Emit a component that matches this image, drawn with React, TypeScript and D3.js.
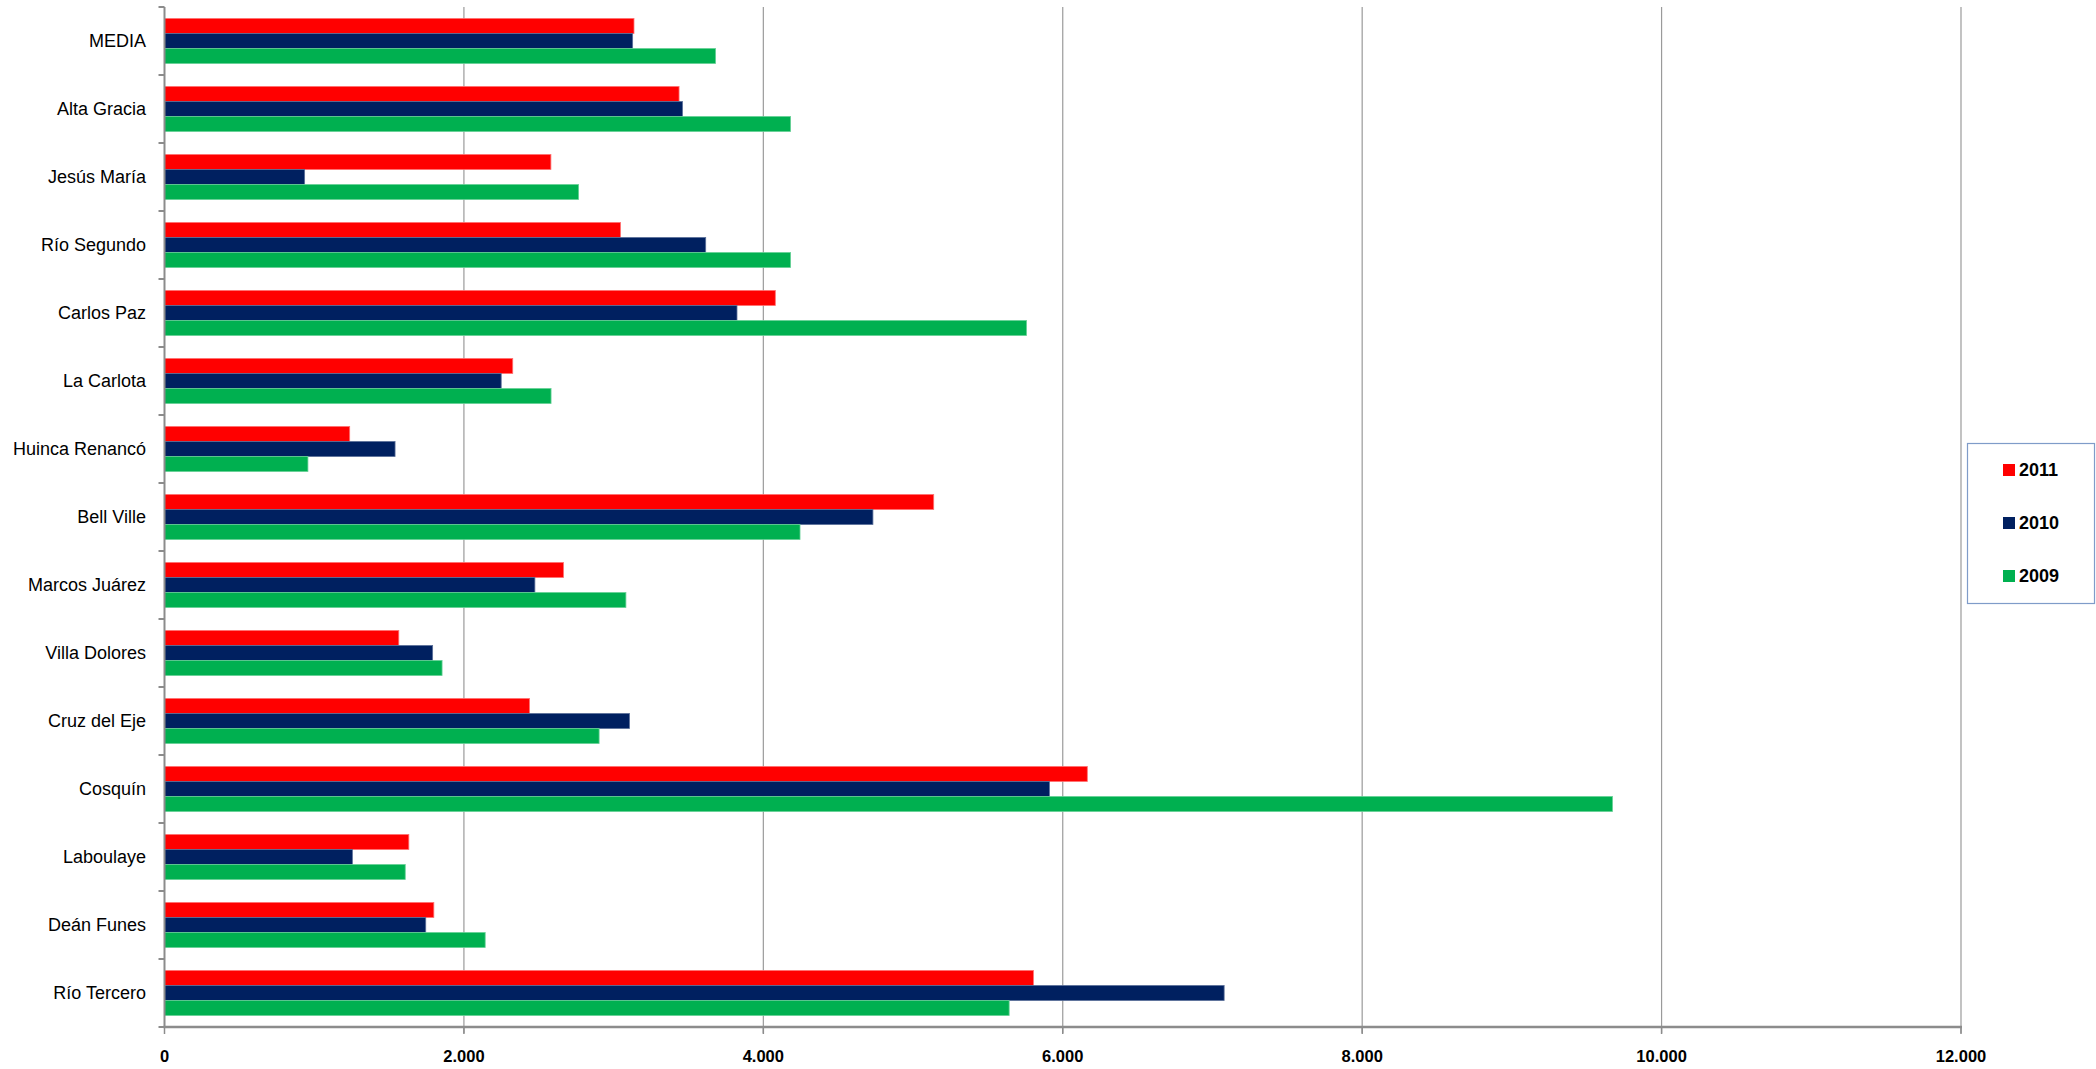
import { useEffect, useRef } from 'react';
import * as d3 from 'd3';

// categories top to bottom
const categories = [
    'MEDIA', 'Alta Gracia', 'Jesús María', 'Río Segundo', 'Carlos Paz', 'La Carlota',
    'Huinca Renancó', 'Bell Ville', 'Marcos Juárez', 'Villa Dolores', 'Cruz del Eje',
    'Cosquín', 'Laboulaye', 'Deán Funes', 'Río Tercero'
];

const values2011 = [3136, 3437, 2581, 3046, 4080, 2326, 1237, 5138, 2665, 1565, 2438, 6164, 1632, 1799, 5804];
const values2010 = [3127, 3460, 936, 3615, 3824, 2249, 1540, 4732, 2474, 1791, 3106, 5911, 1255, 1745, 7078];
const values2009 = [3681, 4182, 2766, 4182, 5758, 2582, 958, 4245, 3082, 1854, 2903, 9672, 1608, 2142, 5642];

const seriesNames = ['2011', '2010', '2009'];
const seriesColors = ['#ff0000', '#002060', '#00b050'];
const seriesStrokes = ['#ff7070', '#5a6f99', '#66d096'];

const xTicks = [0, 2000, 4000, 6000, 8000, 10000, 12000];

const App: React.FC = () => {
    const svgRef = useRef<SVGSVGElement>(null);

    useEffect(() => {
        if (!svgRef.current) return;
        d3.select(svgRef.current).selectAll('*').remove();

        const W = 2096;
        const H = 1069;
        const left = 164.5;
        const right = 1961;
        const top = 7;
        const bottom = 1027;
        const font = '"Liberation Sans", Arial, sans-serif';

        const svg = d3.select(svgRef.current)
            .attr('width', W)
            .attr('height', H);

        svg.append('rect').attr('width', W).attr('height', H).attr('fill', '#fff');

        const x = d3.scaleLinear().domain([0, 12000]).range([left, right]);
        const y0 = d3.scaleBand<string>()
            .domain(categories)
            .range([top, bottom])
            .paddingInner(0.338)
            .paddingOuter(0.169);
        const y1 = d3.scaleBand<string>()
            .domain(seriesNames)
            .range([0, y0.bandwidth()]);

        // grid lines
        svg.append('g')
            .selectAll('line')
            .data(xTicks.slice(1))
            .join('line')
            .attr('x1', d => x(d)).attr('x2', d => x(d))
            .attr('y1', top).attr('y2', bottom + 6)
            .attr('stroke', '#9a9a9a')
            .attr('stroke-width', 1.2);

        // bars
        const allSeries = [values2011, values2010, values2009];
        allSeries.forEach((vals, si) => {
            svg.append('g')
                .selectAll('rect')
                .data(vals)
                .join('rect')
                .attr('x', x(0))
                .attr('y', (_, i) => (y0(categories[i]) ?? 0) + (y1(seriesNames[si]) ?? 0))
                .attr('width', d => x(d) - x(0))
                .attr('height', y1.bandwidth())
                .attr('fill', seriesColors[si])
                .attr('stroke', seriesStrokes[si])
                .attr('stroke-width', 0.8);
        });

        // left axis
        const step = (bottom - top) / categories.length;
        svg.append('line')
            .attr('x1', left).attr('x2', left)
            .attr('y1', top).attr('y2', bottom)
            .attr('stroke', '#8c8c8c').attr('stroke-width', 2);
        svg.append('g')
            .selectAll('line')
            .data(d3.range(categories.length + 1))
            .join('line')
            .attr('x1', left - 6).attr('x2', left)
            .attr('y1', i => top + i * step).attr('y2', i => top + i * step)
            .attr('stroke', '#8c8c8c').attr('stroke-width', 2);

        svg.append('g')
            .selectAll('text')
            .data(categories)
            .join('text')
            .attr('x', 146)
            .attr('y', d => (y0(d) ?? 0) + y0.bandwidth() / 2)
            .attr('dy', '0.35em')
            .attr('text-anchor', 'end')
            .style('font-family', font)
            .style('font-size', '18px')
            .style('fill', '#000')
            .text(d => d);

        // bottom axis
        svg.append('line')
            .attr('x1', left - 1).attr('x2', right + 1)
            .attr('y1', bottom).attr('y2', bottom)
            .attr('stroke', '#8c8c8c').attr('stroke-width', 2.5);
        svg.append('g')
            .selectAll('line')
            .data(xTicks)
            .join('line')
            .attr('x1', d => x(d)).attr('x2', d => x(d))
            .attr('y1', bottom).attr('y2', bottom + 7)
            .attr('stroke', '#8c8c8c').attr('stroke-width', 1.5);

        const fmt = (v: number) => d3.format(',')(v).replace(/,/g, '.');
        svg.append('g')
            .selectAll('text')
            .data(xTicks)
            .join('text')
            .attr('x', d => x(d))
            .attr('y', bottom + 35)
            .attr('text-anchor', 'middle')
            .style('font-family', font)
            .style('font-size', '16.5px')
            .style('font-weight', 'bold')
            .style('fill', '#000')
            .text(d => fmt(d));

        // legend
        const lg = svg.append('g');
        lg.append('rect')
            .attr('x', 1967.5).attr('y', 443.5)
            .attr('width', 127).attr('height', 160)
            .attr('fill', '#fff')
            .attr('stroke', '#7f9cc9')
            .attr('stroke-width', 1.2);
        seriesNames.forEach((name, i) => {
            const cy = 470 + i * 53;
            lg.append('rect')
                .attr('x', 2003).attr('y', cy - 6)
                .attr('width', 12).attr('height', 12)
                .attr('fill', seriesColors[i]);
            lg.append('text')
                .attr('x', 2019).attr('y', cy)
                .attr('dy', '0.36em')
                .style('font-family', font)
                .style('font-size', '18px')
                .style('font-weight', 'bold')
                .style('fill', '#000')
                .text(name);
        });
    }, []);

    return (
        <div style={{ position: 'absolute', left: 0, top: 0 }}>
            <svg ref={svgRef} style={{ display: 'block' }}></svg>
        </div>
    );
};

export default App;
